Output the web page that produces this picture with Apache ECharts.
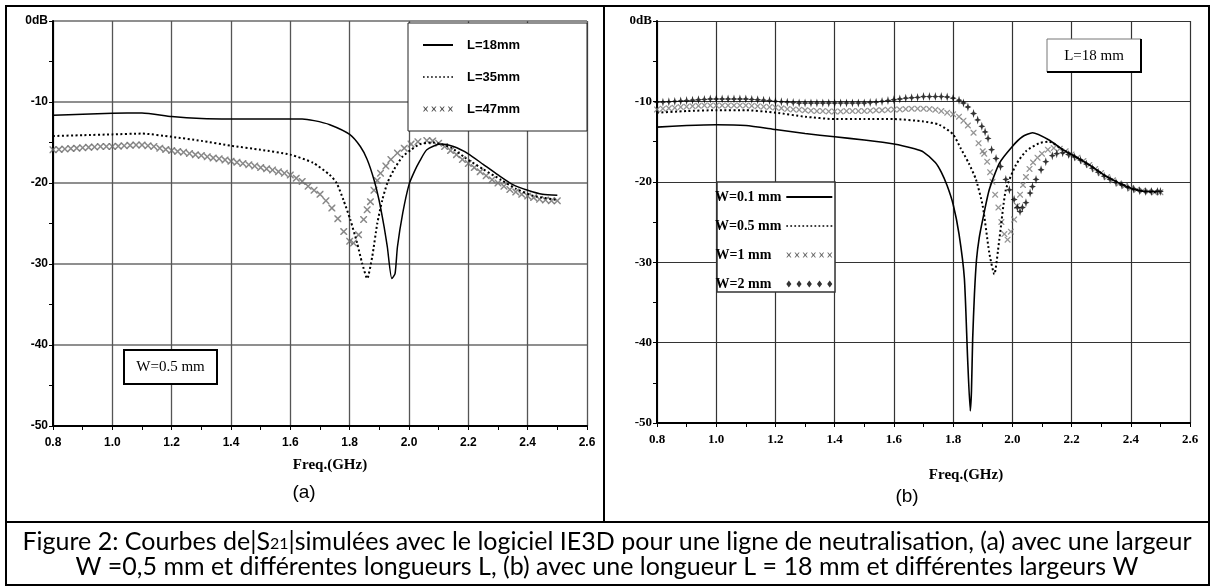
<!DOCTYPE html>
<html><head><meta charset="utf-8">
<script src="https://cdn.jsdelivr.net/npm/echarts@6/dist/echarts.min.js"></script>
<style>html,body{margin:0;padding:0;background:#fff}#c{width:1214px;height:588px}</style>
</head><body><div id="c"></div>
<script>
// ---------- tick labels ----------
const xTickLabels = ['0.8','1.0','1.2','1.4','1.6','1.8','2.0','2.2','2.4','2.6'];
const yTickLabels = ['-50','-40','-30','-20','-10','0dB'];

// ---------- (a) W = 0.5 mm, different L ----------
const a18F = [0.8,0.9,1.0,1.1,1.2,1.3,1.4,1.5,1.64,1.68,1.733,1.8,1.836,1.859,1.882,1.899,1.916,1.927,1.942,1.953,1.961,1.979,2.0,2.018,2.036,2.06,2.105,2.15,2.2,2.25,2.3,2.35,2.4,2.45,2.5];
const a18V = [-11.65,-11.5,-11.4,-11.35,-11.8,-12.05,-12.1,-12.1,-12.1,-12.3,-12.8,-14.0,-15.5,-17.1,-19.6,-22.1,-25.4,-27.9,-31.8,-31.2,-27.9,-23.7,-20.2,-18.6,-17.3,-15.9,-15.2,-15.5,-16.4,-17.7,-19.0,-20.2,-20.9,-21.4,-21.5];

const a35F = [0.8,0.9,1.0,1.1,1.2,1.3,1.4,1.5,1.6,1.676,1.733,1.756,1.779,1.802,1.825,1.842,1.859,1.876,1.893,1.91,1.927,1.95,1.979,2.007,2.036,2.08,2.14,2.19,2.25,2.31,2.36,2.42,2.5];
const a35V = [-14.2,-14.1,-14.0,-13.9,-14.3,-14.8,-15.4,-15.9,-16.5,-17.5,-19.0,-20.0,-22.1,-24.5,-27.4,-29.9,-31.8,-29.1,-25.0,-22.1,-20.0,-18.3,-16.7,-15.9,-15.2,-15.0,-15.6,-16.9,-18.3,-19.6,-20.7,-21.6,-22.1];

const a47F = [0.80,0.82,0.84,0.86,0.88,0.90,0.92,0.94,0.96,0.98,1.00,1.02,1.04,1.06,1.08,1.10,1.12,1.14,1.16,1.18,1.20,1.22,1.24,1.26,1.28,1.30,1.32,1.34,1.36,1.38,1.40,1.42,1.44,1.46,1.48,1.50,1.52,1.54,1.56,1.58,1.60,1.62,1.64,1.66,1.68,1.70,1.72,1.74,1.76,1.78,1.80,1.813,1.83,1.847,1.859,1.87,1.882,1.893,1.904,1.922,1.939,1.961,1.984,2.007,2.03,2.06,2.08,2.10,2.12,2.14,2.16,2.18,2.20,2.22,2.24,2.26,2.28,2.30,2.32,2.34,2.36,2.38,2.40,2.42,2.44,2.46,2.48,2.50];
const a47V = [-15.9,-15.85,-15.8,-15.75,-15.7,-15.65,-15.6,-15.55,-15.5,-15.5,-15.5,-15.45,-15.4,-15.35,-15.3,-15.3,-15.4,-15.5,-15.7,-15.85,-16.0,-16.1,-16.2,-16.35,-16.5,-16.6,-16.75,-16.9,-17.0,-17.15,-17.3,-17.45,-17.6,-17.75,-17.9,-18.1,-18.25,-18.4,-18.6,-18.8,-19.0,-19.4,-19.8,-20.4,-20.9,-21.4,-22.2,-23.1,-24.4,-26.0,-27.2,-27.4,-26.4,-24.5,-23.3,-22.3,-20.9,-19.7,-18.8,-17.9,-17.1,-16.3,-15.7,-15.2,-14.9,-14.75,-14.8,-15.1,-15.5,-16.0,-16.5,-17.1,-17.6,-18.1,-18.6,-19.1,-19.6,-20.0,-20.4,-20.8,-21.1,-21.4,-21.6,-21.8,-22.0,-22.1,-22.2,-22.2];

// ---------- (b) L = 18 mm, different W ----------
const b01F = [0.8,0.9,1.0,1.1,1.2,1.3,1.4,1.5,1.6,1.67,1.70,1.74,1.76,1.78,1.80,1.82,1.838,1.849,1.858,1.862,1.866,1.872,1.879,1.888,1.9,1.922,1.956,2.0,2.034,2.068,2.124,2.17,2.2,2.26,2.316,2.4,2.45,2.49];
const b01V = [-13.2,-13.0,-12.9,-13.0,-13.5,-14.0,-14.4,-14.8,-15.3,-15.9,-16.3,-17.6,-18.8,-20.5,-22.8,-26.5,-32.0,-42.0,-48.5,-46.0,-39.6,-34.0,-29.7,-27.0,-24.7,-21.0,-17.7,-15.6,-14.4,-13.9,-14.8,-16.0,-16.6,-17.9,-19.3,-20.8,-21.2,-21.2];

const b05F = [0.8,0.9,1.0,1.1,1.2,1.3,1.4,1.5,1.6,1.7,1.753,1.8,1.825,1.853,1.877,1.9,1.922,1.939,1.956,1.978,2.012,2.046,2.09,2.124,2.17,2.2,2.26,2.316,2.4,2.45,2.49];
const b05V = [-11.4,-11.2,-11.1,-11.1,-11.4,-11.9,-12.2,-12.2,-12.2,-12.5,-12.9,-14.1,-15.8,-17.7,-19.7,-23.0,-28.8,-31.5,-27.2,-21.0,-17.9,-16.2,-15.2,-15.0,-16.0,-16.6,-17.9,-19.3,-20.8,-21.2,-21.3];

const b1F = [0.80,0.82,0.84,0.86,0.88,0.90,0.92,0.94,0.96,0.98,1.00,1.02,1.04,1.06,1.08,1.10,1.12,1.14,1.16,1.18,1.20,1.22,1.24,1.26,1.28,1.30,1.32,1.34,1.36,1.38,1.40,1.42,1.44,1.46,1.48,1.50,1.52,1.54,1.56,1.58,1.60,1.62,1.64,1.66,1.68,1.70,1.72,1.74,1.76,1.78,1.80,1.82,1.835,1.85,1.869,1.886,1.90,1.905,1.915,1.925,1.933,1.942,1.953,1.963,1.973,1.984,1.995,2.006,2.016,2.026,2.036,2.046,2.058,2.07,2.085,2.10,2.12,2.14,2.16,2.18,2.20,2.22,2.24,2.26,2.28,2.30,2.32,2.34,2.36,2.38,2.40,2.42,2.44,2.46,2.48,2.50];
const b1V = [-11.0,-10.9,-10.85,-10.8,-10.7,-10.65,-10.6,-10.55,-10.5,-10.5,-10.5,-10.5,-10.5,-10.5,-10.5,-10.5,-10.55,-10.6,-10.65,-10.7,-10.75,-10.85,-10.95,-11.0,-11.05,-11.1,-11.15,-11.2,-11.2,-11.25,-11.25,-11.25,-11.2,-11.2,-11.2,-11.2,-11.15,-11.1,-11.1,-11.05,-11.0,-11.0,-10.95,-10.9,-10.9,-10.9,-10.95,-11.05,-11.2,-11.4,-11.6,-11.9,-12.4,-13.0,-13.9,-15.2,-16.2,-16.5,-17.5,-18.8,-20.0,-21.6,-23.2,-25.0,-26.5,-27.2,-26.2,-24.7,-23.0,-21.6,-20.4,-19.4,-18.4,-17.6,-17.0,-16.5,-16.0,-15.8,-15.9,-16.2,-16.6,-17.0,-17.4,-17.9,-18.4,-18.9,-19.4,-19.8,-20.2,-20.5,-20.8,-21.0,-21.1,-21.2,-21.3,-21.3];

const b2F = [0.80,0.82,0.84,0.86,0.88,0.90,0.92,0.94,0.96,0.98,1.00,1.02,1.04,1.06,1.08,1.10,1.12,1.14,1.16,1.18,1.20,1.22,1.24,1.26,1.28,1.30,1.32,1.34,1.36,1.38,1.40,1.42,1.44,1.46,1.48,1.50,1.52,1.54,1.56,1.58,1.60,1.62,1.64,1.66,1.68,1.70,1.72,1.74,1.76,1.78,1.80,1.82,1.835,1.85,1.869,1.883,1.897,1.908,1.918,1.93,1.945,1.96,1.978,1.99,2.006,2.017,2.026,2.034,2.046,2.06,2.068,2.08,2.097,2.113,2.135,2.15,2.17,2.19,2.21,2.23,2.25,2.27,2.29,2.31,2.33,2.35,2.37,2.39,2.41,2.43,2.45,2.47,2.49,2.50];
const b2V = [-10.1,-10.1,-10.05,-10.0,-9.95,-9.9,-9.85,-9.8,-9.75,-9.7,-9.7,-9.7,-9.7,-9.7,-9.7,-9.7,-9.75,-9.8,-9.85,-9.9,-10.0,-10.05,-10.1,-10.15,-10.2,-10.2,-10.2,-10.2,-10.2,-10.2,-10.2,-10.2,-10.2,-10.2,-10.2,-10.2,-10.15,-10.1,-10.0,-9.9,-9.8,-9.7,-9.6,-9.55,-9.5,-9.4,-9.4,-9.4,-9.4,-9.45,-9.6,-9.85,-10.2,-10.7,-11.5,-12.3,-13.1,-13.8,-14.6,-16.0,-17.1,-18.1,-19.7,-21.0,-22.2,-23.2,-23.7,-23.2,-22.6,-21.4,-20.6,-19.7,-18.5,-17.5,-16.75,-16.5,-16.4,-16.6,-16.9,-17.3,-17.8,-18.3,-18.8,-19.3,-19.7,-20.1,-20.4,-20.7,-20.9,-21.1,-21.2,-21.2,-21.2,-21.2];

const zip = (f, v) => f.map((x, i) => [x, v[i]]);

// ---------- symbols / legend icons ----------
function xGlyph(ox) {
  return `M${ox},0L${ox+1},0L${ox+2.5},1.8L${ox+4},0L${ox+5},0L${ox+3.2},2.5L${ox+5},5L${ox+4},5L${ox+2.5},3.2L${ox+1},5L${ox},5L${ox+1.8},2.5Z`;
}
function xIcon(n, step) { let s=''; for (let i=0;i<n;i++) s += xGlyph(i*step); return 'path://' + s; }
function dIcon(n, step) { let s=''; for (let i=0;i<n;i++){const o=i*step; s += `M${o+2.5},0L${o+5},3.5L${o+2.5},7L${o},3.5Z`;} return 'path://' + s; }
function solidIcon(w) { return `path://M0,0L${w},0L${w},2L0,2Z`; }
function dotIcon(n, step) { let s=''; for (let i=0;i<n;i++){const o=i*step; s += `M${o},0L${o+1.6},0L${o+1.6},1.6L${o},1.6Z`;} return 'path://' + s; }
const xSymbol = 'path://M0,0L1.5,0L5,3.5L8.5,0L10,0L10,1.5L6.5,5L10,8.5L10,10L8.5,10L5,6.5L1.5,10L0,10L0,8.5L3.5,5L0,1.5Z';
const starSymbol = 'path://M5,0L6.3,3.7L10,5L6.3,6.3L5,10L3.7,6.3L0,5L3.7,3.7Z';

const chart = echarts.init(document.getElementById('c'), null, {renderer: 'canvas'});

const fmtX = v => xTickLabels[Math.round((v - 0.8) / 0.2)];
const fmtY = v => yTickLabels[Math.round((v + 50) / 10)];

function mkX(gi, opt) {
  return {
    type: 'value', gridIndex: gi, min: 0.8, max: 2.6, interval: 0.2,
    name: 'Freq.(GHz)', nameLocation: 'middle', nameGap: opt.nameGap,
    nameTextStyle: {fontFamily: 'Liberation Serif', fontWeight: 'bold', fontSize: 15, color: '#000', padding: [0,0,0,opt.namePad]},
    axisLine: {show: true, onZero: false, lineStyle: {color: '#000', width: 2}},
    axisTick: {show: true, length: 4, lineStyle: {color: '#000'}},
    minorTick: {show: true, splitNumber: 2, length: 4, lineStyle: {color: '#000'}},
    axisLabel: {formatter: fmtX, margin: opt.margin, color: '#000', fontFamily: opt.font, fontWeight: 'bold', fontSize: opt.fs},
    splitLine: {show: true, lineStyle: {color: opt.gridColor, width: opt.gridW}}
  };
}
function mkY(gi, opt) {
  return {
    type: 'value', gridIndex: gi, min: -50, max: 0, interval: 10,
    axisLine: {show: true, onZero: false, lineStyle: {color: '#000', width: 2}},
    axisTick: {show: true, length: 4, lineStyle: {color: '#000'}},
    minorTick: {show: true, splitNumber: 2, length: 4, lineStyle: {color: '#000'}},
    axisLabel: {formatter: fmtY, margin: 5, color: '#000', fontFamily: opt.font, fontWeight: 'bold', fontSize: opt.fs},
    splitLine: {show: true, lineStyle: {color: opt.gridColor, width: opt.gridW}}
  };
}

const option = {
  animation: false,
  backgroundColor: '#fff',
  grid: [
    {left: 53, top: 21, width: 534, height: 405},
    {left: 657, top: 21, width: 533, height: 402}
  ],
  xAxis: [
    mkX(0, {nameGap: 32, namePad: 20, margin: 11, font: 'Liberation Sans', fs: 12, gridColor: '#555', gridW: 1.3}),
    mkX(1, {nameGap: 45, namePad: 85, margin: 10, font: 'Liberation Serif', fs: 13, gridColor: '#333', gridW: 1.2})
  ],
  yAxis: [
    mkY(0, {font: 'Liberation Sans', fs: 12, gridColor: '#6a6a6a', gridW: 1.5}),
    mkY(1, {font: 'Liberation Serif', fs: 13, gridColor: '#333', gridW: 1.2})
  ],
  legend: [
    {
      orient: 'vertical', left: 423, top: 38, padding: 0, itemWidth: 30, itemHeight: 14, itemGap: 18,
      selectedMode: false, z: 6,
      itemStyle: {borderWidth: 0},
      textStyle: {fontFamily: 'Liberation Sans', fontWeight: 'bold', fontSize: 13, color: '#000', lineHeight: 14, padding: [0,0,0,9]},
      data: [
        {name: 'L=18mm', icon: solidIcon(30), itemStyle: {color: '#000'}},
        {name: 'L=35mm', icon: dotIcon(8, 4), itemStyle: {color: '#000'}},
        {name: 'L=47mm', icon: xIcon(4, 8), itemStyle: {color: '#222'}}
      ]
    },
    {
      orient: 'vertical', left: 715, top: 190, padding: 0, itemWidth: 46, itemHeight: 12, itemGap: 15,
      align: 'right', selectedMode: false, z: 6,
      itemStyle: {borderWidth: 0},
      textStyle: {fontFamily: 'Liberation Serif', fontWeight: 'bold', fontSize: 14, color: '#000', lineHeight: 12},
      data: [
        {name: 'W=0.1 mm', icon: solidIcon(46), itemStyle: {color: '#000'}},
        {name: 'W=0.5 mm', icon: dotIcon(12, 3.7), itemStyle: {color: '#000'}},
        {name: 'W=1 mm', icon: xIcon(6, 8), itemStyle: {color: '#444'}, textStyle: {padding: [0,10,0,0]}},
        {name: 'W=2 mm', icon: dIcon(5, 10), itemStyle: {color: '#000'}, textStyle: {padding: [0,10,0,0]}}
      ]
    }
  ],
  series: [
    {name: 'L=18mm', type: 'line', xAxisIndex: 0, yAxisIndex: 0, data: zip(a18F, a18V), symbol: 'none', smooth: 0.2,
     lineStyle: {color: '#000', width: 1.5}, itemStyle: {color: '#000'}},
    {name: 'L=35mm', type: 'line', xAxisIndex: 0, yAxisIndex: 0, data: zip(a35F, a35V), symbol: 'none', smooth: 0.2,
     lineStyle: {color: '#000', width: 2, type: [2, 2.5]}, itemStyle: {color: '#000'}},
    {name: 'L=47mm', type: 'scatter', xAxisIndex: 0, yAxisIndex: 0, data: zip(a47F, a47V), symbol: xSymbol, symbolSize: 7,
     itemStyle: {color: '#6a6a6a'}},
    {name: 'W=0.1 mm', type: 'line', xAxisIndex: 1, yAxisIndex: 1, data: zip(b01F, b01V), symbol: 'none', smooth: 0.2,
     lineStyle: {color: '#000', width: 1.6}, itemStyle: {color: '#000'}},
    {name: 'W=0.5 mm', type: 'line', xAxisIndex: 1, yAxisIndex: 1, data: zip(b05F, b05V), symbol: 'none', smooth: 0.2,
     lineStyle: {color: '#000', width: 2, type: [2, 2.5]}, itemStyle: {color: '#000'}},
    {name: 'W=1 mm', type: 'scatter', xAxisIndex: 1, yAxisIndex: 1, data: zip(b1F, b1V), symbol: xSymbol, symbolSize: 6,
     itemStyle: {color: '#7a7a7a'}},
    {name: 'W=2 mm', type: 'scatter', xAxisIndex: 1, yAxisIndex: 1, data: zip(b2F, b2V), symbol: starSymbol, symbolSize: [7, 9],
     itemStyle: {color: '#000'}}
  ],
  graphic: [
    // outer frame and panel separators
    {type: 'rect', z: 10, shape: {x: 6, y: 6, width: 1203, height: 579}, style: {fill: 'none', stroke: '#000', lineWidth: 2}},
    {type: 'line', z: 10, shape: {x1: 604, y1: 6, x2: 604, y2: 522}, style: {stroke: '#000', lineWidth: 2}},
    {type: 'line', z: 10, shape: {x1: 6, y1: 522, x2: 1209, y2: 522}, style: {stroke: '#000', lineWidth: 2}},
    // legend boxes
    {type: 'rect', z: 4, shape: {x: 408, y: 23, width: 179, height: 108}, style: {fill: '#fff', stroke: '#222', lineWidth: 1}},
    {type: 'rect', z: 4, shape: {x: 717, y: 182, width: 118, height: 110}, style: {fill: '#fff', stroke: '#333', lineWidth: 1.5}},
    // annotation W=0.5 mm
    {type: 'rect', z: 4, shape: {x: 124, y: 350, width: 93, height: 34}, style: {fill: '#fff', stroke: '#000', lineWidth: 2}},
    {type: 'text', z: 5, style: {x: 170.5, y: 367, text: 'W=0.5 mm', align: 'center', verticalAlign: 'middle', fill: '#000', font: '15px "Liberation Serif"'}},
    // annotation L=18 mm
    {type: 'rect', z: 4, shape: {x: 1047, y: 39, width: 94, height: 33}, style: {fill: '#fff', stroke: '#777', lineWidth: 1}},
    {type: 'polyline', z: 5, shape: {points: [[1141, 39], [1141, 72], [1047, 72]]}, style: {fill: 'none', stroke: '#000', lineWidth: 2}},
    {type: 'text', z: 5, style: {x: 1094, y: 56, text: 'L=18 mm', align: 'center', verticalAlign: 'middle', fill: '#000', font: '15px "Liberation Serif"'}},
    // panel labels
    {type: 'text', z: 5, style: {x: 304, y: 493, text: '(a)', align: 'center', verticalAlign: 'middle', fill: '#000', font: '19px "Liberation Sans"'}},
    {type: 'text', z: 5, style: {x: 907, y: 497, text: '(b)', align: 'center', verticalAlign: 'middle', fill: '#000', font: '19px "Liberation Sans"'}},
    // caption
    {type: 'text', z: 5, style: {
      x: 607, y: 554, align: 'center', verticalAlign: 'middle', fill: '#000',
      text: '{t|Figure 2: Courbes de|S}{s|21}{t||simulées avec le logiciel IE3D pour une ligne de neutralisation, (a) avec une largeur}\n{t|W =0,5 mm et différentes longueurs L, (b) avec une longueur L = 18 mm et différentes largeurs W}',
      rich: {
        t: {fontFamily: 'Lato', fontSize: 25, lineHeight: 25, fill: '#000'},
        s: {fontFamily: 'Lato', fontSize: 16, lineHeight: 25, verticalAlign: 'bottom', fill: '#000', padding: [0,0,2,0]}
      }
    }}
  ]
};
chart.setOption(option);
</script>
</body></html>
